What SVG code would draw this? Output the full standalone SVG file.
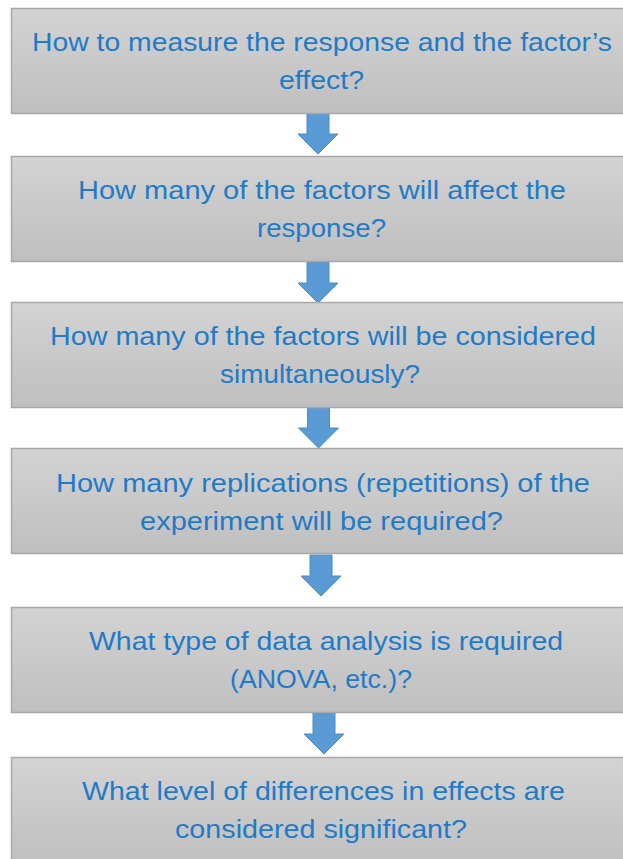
<svg xmlns="http://www.w3.org/2000/svg" width="623" height="859" viewBox="0 0 623 859">
  <defs>
    <linearGradient id="boxFill" x1="0" y1="0" x2="0" y2="1">
      <stop offset="0" stop-color="#d3d3d3"/>
      <stop offset="1" stop-color="#bfbfbf"/>
    </linearGradient>
    <!-- block arrow pointing down, origin at top centre of the shaft -->
    <path id="downArrow" d="M-11,0 H11 V21 H20 L0,41 L-20,21 H-11 Z"/>
  </defs>
  <style>
    .box { fill: url(#boxFill); stroke: #a8a8a8; stroke-width: 1.5; }
    .label { font-family: "Liberation Sans", Arial, sans-serif; font-size: 26px; fill: #1f7bc8; text-anchor: middle; }
    .arrow { fill: #5b9bd5; stroke: #4f8cc6; stroke-width: 1; }
  </style>
  <rect width="623" height="859" fill="#ffffff"/>

  <g id="connectors">
    <use href="#downArrow" class="arrow" transform="translate(318,113)"/>
    <use href="#downArrow" class="arrow" transform="translate(318,262)"/>
    <use href="#downArrow" class="arrow" transform="translate(318.5,407)"/>
    <use href="#downArrow" class="arrow" transform="translate(321,555)"/>
    <use href="#downArrow" class="arrow" transform="translate(324,713)"/>
  </g>

  <g id="step-measure">
    <rect class="box" x="11.5" y="8.5" width="640" height="105"/>
    <text class="label" x="322" y="51" textLength="580" lengthAdjust="spacingAndGlyphs">How to measure the response and the factor’s</text>
    <text class="label" x="321.5" y="89" textLength="85" lengthAdjust="spacingAndGlyphs">effect?</text>
  </g>

  <g id="step-factors">
    <rect class="box" x="11.5" y="156.5" width="640" height="105"/>
    <text class="label" x="322" y="199" textLength="488" lengthAdjust="spacingAndGlyphs">How many of the factors will affect the</text>
    <text class="label" x="321.5" y="237" textLength="129" lengthAdjust="spacingAndGlyphs">response?</text>
  </g>

  <g id="step-simultaneous">
    <rect class="box" x="11.5" y="302.5" width="640" height="105"/>
    <text class="label" x="323" y="345" textLength="546" lengthAdjust="spacingAndGlyphs">How many of the factors will be considered</text>
    <text class="label" x="320" y="383" textLength="200" lengthAdjust="spacingAndGlyphs">simultaneously?</text>
  </g>

  <g id="step-replications">
    <rect class="box" x="11.5" y="448.5" width="640" height="105"/>
    <text class="label" x="323" y="492" textLength="534" lengthAdjust="spacingAndGlyphs">How many replications (repetitions) of the</text>
    <text class="label" x="321.5" y="530" textLength="363" lengthAdjust="spacingAndGlyphs">experiment will be required?</text>
  </g>

  <g id="step-analysis">
    <rect class="box" x="11.5" y="607.5" width="640" height="105"/>
    <text class="label" x="326" y="650" textLength="474" lengthAdjust="spacingAndGlyphs">What type of data analysis is required</text>
    <text class="label" x="321" y="688" textLength="182" lengthAdjust="spacingAndGlyphs">(ANOVA, etc.)?</text>
  </g>

  <g id="step-significance">
    <rect class="box" x="11.5" y="757.5" width="640" height="110"/>
    <text class="label" x="323.5" y="800" textLength="483" lengthAdjust="spacingAndGlyphs">What level of differences in effects are</text>
    <text class="label" x="321" y="838" textLength="292" lengthAdjust="spacingAndGlyphs">considered significant?</text>
  </g>
</svg>
